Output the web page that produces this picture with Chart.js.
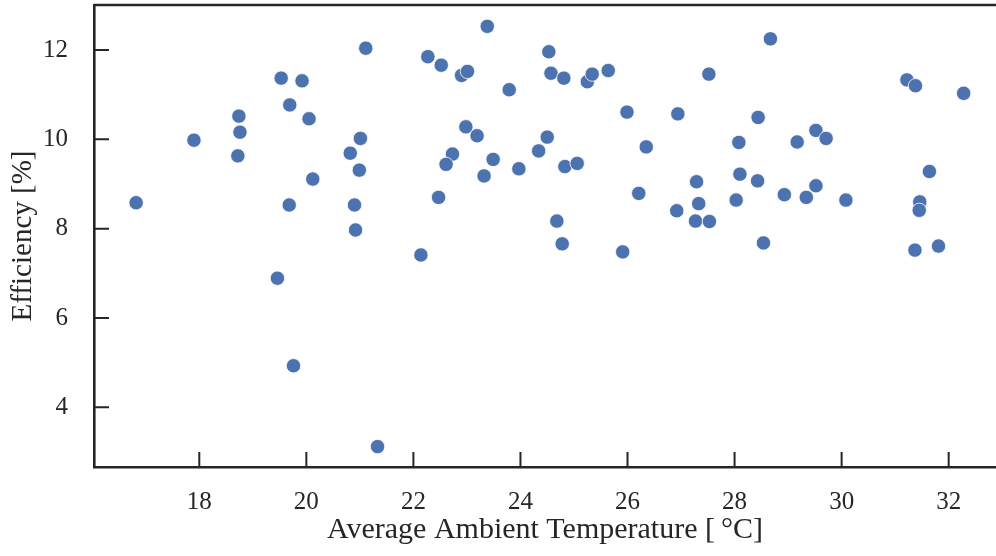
<!DOCTYPE html>
<html>
<head>
<meta charset="utf-8">
<script src="https://cdn.jsdelivr.net/npm/chart.js@4.4.0/dist/chart.umd.min.js"></script>
<style>
  html, body { margin: 0; padding: 0; background: #fff; overflow: hidden; }
  canvas { display: block; }
</style>
</head>
<body>
<canvas id="scatter" width="996" height="556"></canvas>
<script>
// values
const tempC = [
	21.11, 19.53, 19.92, 19.69, 18.74, 20.05, 18.76, 17.90, 21.01, 20.82,
	18.72, 20.99, 20.12, 16.82, 19.68, 20.90, 20.92,
	22.14, 19.46, 19.76, 21.33,
	23.38, 22.27, 22.52, 22.90, 23.01, 24.53, 24.57, 24.81, 23.79, 25.25,
	25.34, 25.64, 25.99, 26.94, 22.98, 23.19, 24.50, 24.34, 22.73, 22.61,
	23.49, 23.32, 23.97, 24.83, 25.06, 26.35, 22.47, 26.21, 26.92, 24.68,
	27.29, 27.33, 27.27, 27.53,
	24.78, 25.91, 28.54, 31.37, 31.81,
	28.67, 27.52, 28.44, 28.08, 29.17, 29.52, 29.71, 28.10, 28.43, 28.03,
	28.93, 29.34, 29.52, 30.08, 31.22, 31.38, 32.28, 31.64, 31.46, 31.45
];
const efficiency = [
	12.04, 11.37, 11.31, 10.77, 10.52, 10.46, 10.16, 9.98, 10.02, 9.69,
	9.63, 9.31, 9.11, 8.58, 8.53, 8.53, 7.97,
	7.41, 6.89, 4.93, 3.12,
	12.53, 11.85, 11.66, 11.43, 11.52, 11.96, 11.48, 11.37, 11.11, 11.29,
	11.46, 11.54, 10.61, 10.57, 10.28, 10.08, 10.05, 9.74, 9.67, 9.44,
	9.55, 9.18, 9.34, 9.39, 9.46, 9.83, 8.70, 8.79, 8.40, 8.17,
	9.05, 8.56, 8.17, 8.16,
	7.66, 7.48, 7.68, 7.52, 7.61,
	12.25, 11.46, 10.49, 9.93, 9.94, 10.20, 10.02, 9.22, 9.07, 8.64,
	8.76, 8.70, 8.96, 8.64, 11.33, 11.20, 11.03, 9.28, 8.60, 8.41
];

const xTicks = [18, 20, 22, 24, 26, 28, 30, 32];
const yTicks = [4, 6, 8, 10, 12];
const xTitle = "Average Ambient Temperature [\u2009\u00b0C]";
const yTitle = "Efficiency [%]";

const ink = "#262626";
const serif = "'Liberation Serif', 'DejaVu Serif', serif";

let points = [];
for (let i = 0; i < tempC.length; i++) {
	points.push({ x: tempC[i], y: efficiency[i] });
}

// no extra room for half labels at the ends, the plot fills the canvas
function noPad(s) {
	s.paddingTop = 0;
	s.paddingBottom = 0;
	s.paddingLeft = 0;
	s.paddingRight = 0;
}

// top frame line and ticks pointing into the plot
const frame = {
	id: "frame",
	afterDraw(chart) {
		const ctx = chart.ctx;
		const a = chart.chartArea;
		const x = chart.scales.x;
		const y = chart.scales.y;
		ctx.save();
		ctx.strokeStyle = ink;
		ctx.lineWidth = 2.6;
		ctx.beginPath();
		ctx.moveTo(a.left, a.top);
		ctx.lineTo(a.right, a.top);
		ctx.stroke();
		ctx.lineWidth = 2;
		ctx.beginPath();
		xTicks.forEach((v) => {
			let px = x.getPixelForValue(v);
			ctx.moveTo(px, a.bottom);
			ctx.lineTo(px, a.bottom - 15);
		});
		yTicks.forEach((v) => {
			let py = y.getPixelForValue(v);
			ctx.moveTo(a.left, py);
			ctx.lineTo(a.left + 15, py);
		});
		ctx.stroke();
		ctx.restore();
	}
};

new Chart(document.getElementById("scatter"), {
	type: "scatter",
	data: {
		datasets: [{
			label: "Efficiency",
			data: points,
			backgroundColor: "#4c72b0",
			borderColor: "#ffffff",
			borderWidth: 0.8,
			pointRadius: 7.2,
			pointHoverRadius: 7.2
		}]
	},
	options: {
		responsive: false,
		devicePixelRatio: 1,
		animation: false,
		layout: { autoPadding: false, padding: { top: 5, right: 0, bottom: 0, left: 0 } },
		plugins: {
			legend: { display: false },
			tooltip: { enabled: false }
		},
		scales: {
			x: {
				type: "linear",
				min: 16.033,
				max: 32.884,
				grid: { display: false },
				border: { display: true, color: ink, width: 2.6 },
				afterBuildTicks: (s) => { s.ticks = xTicks.map((v) => ({ value: v })); },
				afterFit: (s) => { s.height = 89; noPad(s); },
				ticks: {
					padding: 12,
					color: ink,
					maxRotation: 0,
					font: { family: serif, size: 25 },
					callback: (v) => String(v)
				},
				title: {
					display: true,
					text: xTitle,
					color: ink,
					padding: { top: 4, bottom: 8 },
					font: { family: serif, size: 30 }
				}
			},
			y: {
				type: "linear",
				min: 2.663,
				max: 13.0075,
				grid: { display: false },
				border: { display: true, color: ink, width: 2.6 },
				afterBuildTicks: (s) => { s.ticks = yTicks.map((v) => ({ value: v })); },
				afterFit: (s) => { s.width = 94; noPad(s); },
				ticks: {
					padding: 18,
					color: ink,
					font: { family: serif, size: 25 },
					callback: (v) => String(v)
				},
				title: {
					display: true,
					text: yTitle,
					color: ink,
					padding: { top: 6, bottom: 4 },
					font: { family: serif, size: 29 }
				}
			}
		}
	},
	plugins: [frame]
});
</script>
</body>
</html>
